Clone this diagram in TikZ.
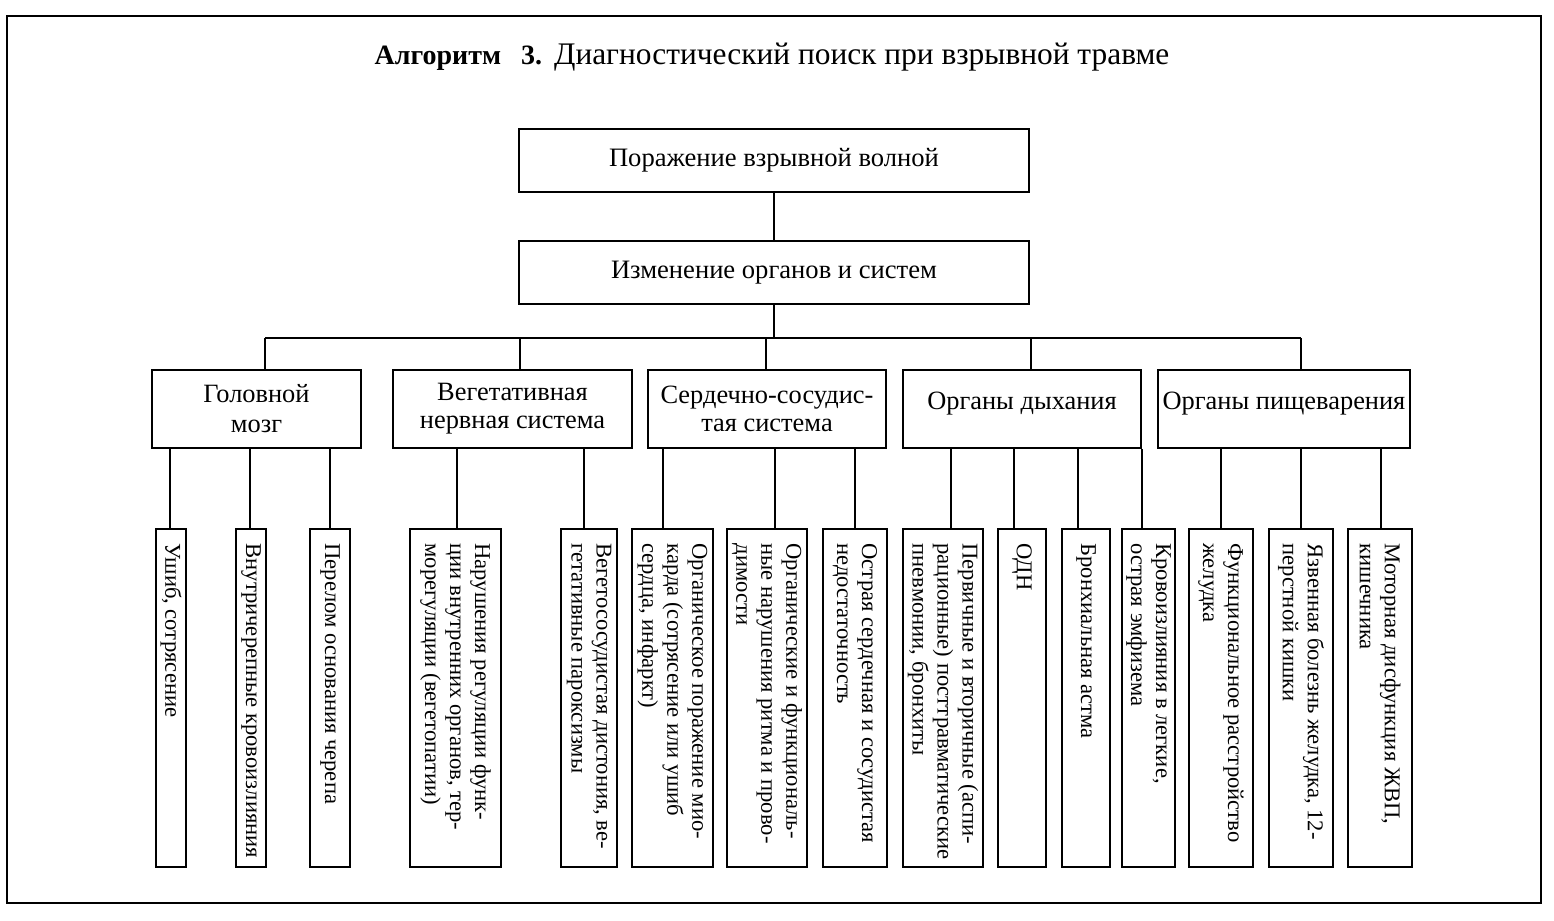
\documentclass[tikz,border=0pt]{standalone}
\usepackage{fontspec}
\setmainfont{Liberation Serif}
\begin{document}
\begin{tikzpicture}[x=0.5pt,y=-0.5pt,
  box/.style={draw, line width=0.8pt, align=center, inner sep=2pt},
  topbox/.style={box, minimum width=255pt, minimum height=31.5pt, font=\fontsize{13.3}{15}\selectfont},
  orgbox/.style={box, minimum height=39pt, font=\fontsize{13.2}{15}\selectfont},
  leaf/.style={draw, line width=0.8pt, rotate=-90, minimum width=169pt, inner sep=0pt},
  leaftext/.style={rotate=-90, anchor=west, inner sep=0pt, align=left, font=\fontsize{11.3}{12.5}\selectfont},
  conn/.style={line width=0.8pt}]
\useasboundingbox (0,0) rectangle (1554,921);
\draw[line width=1pt] (7,16) rectangle (1541,903);
\node[font=\fontsize{15.7}{18}\selectfont] (title) at (772,57) {{\fontsize{14}{18}\selectfont\bfseries Алгоритм\hspace{10pt}3.}\hspace{6pt}Диагностический поиск при взрывной травме};
\node[topbox] (L1) at (774,160.5) {Поражение взрывной волной};
\node[topbox] (L2) at (774,272.5) {Изменение органов и систем};
\draw[conn] (L1) -- (L2);
\node[orgbox, minimum width=104.5pt] (A) at (256.5,409) {Головной\\мозг};
\node[orgbox, minimum width=119.5pt] (B) at (512.5,409) {Вегетативная\\[-1pt]нервная система};
\node[orgbox, minimum width=119pt] (C) at (767,409) {Сердечно-сосудис-\\[-1pt]тая система};
\node[orgbox, minimum width=119pt] (D) at (1022,409) {Органы дыхания\\[-7pt]\mbox{}};
\node[orgbox, minimum width=126pt] (E) at (1284,409) {Органы пищеварения\\[-7pt]\mbox{}};
\coordinate (bus) at (774,338);
\coordinate (dA) at (265,338);
\coordinate (dB) at (520,338);
\coordinate (dC) at (766,338);
\coordinate (dD) at (1031,338);
\coordinate (dE) at (1301,338);
\draw[conn] (L2.south) -- (bus);
\draw[conn] (dA) -- (dE);
\foreach \d/\p in {dA/A,dB/B,dC/C,dD/D,dE/E}
  \draw[conn] (\d) -- (\d |- \p.north);
\foreach \n/\a/\b/\l/\p/\t in {
  lf1/156/186/170/A/{Ушиб, сотрясение},
  lf2/236/266/250/A/{Внутричерепные кровоизлияния},
  lf3/310/350/330/A/{Перелом основания черепа},
  lf4/410/501/457/B/{Нарушения регуляции функ-\\ции внутренних органов, тер-\\морегуляции (вегетопатии)},
  lf5/561/617/584/B/{Вегетососудистая дистония, ве-\\гетативные пароксизмы},
  lf6/632/713/663/C/{Органическое поражение мио-\\карда (сотрясение или ушиб\\сердца, инфаркт)},
  lf7/727/807/775/C/{Органические и функциональ-\\ные нарушения ритма и прово-\\димости},
  lf8/823/887/855/C/{Острая сердечная и сосудистая\\недостаточность},
  lf9/903/983/951/D/{Первичные и вторичные (аспи-\\рационные) посттравматические\\пневмонии, бронхиты},
  lf10/998/1046/1014/D/{ОДН},
  lf11/1062/1110/1078/D/{Бронхиальная астма},
  lf12/1122/1175/1142/D/{Кровоизлияния в легкие,\\острая эмфизема},
  lf13/1189/1253/1221/E/{Функциональное расстройство\\желудка},
  lf14/1269/1333/1301/E/{Язвенная болезнь желудка, 12-\\перстной кишки},
  lf15/1348/1412/1381/E/{Моторная дисфункция ЖВП,\\кишечника}}
{
  \node[leaf, minimum height=(\b-\a)*0.5pt] (\n) at ({(\a+\b)/2},698) {};
  \node[leaftext] (t\n) at ([yshift=-7.5pt]\n.west) {\t};
  \coordinate (x\n) at (\l,0);
  \draw[conn] (x\n |- \p.south) -- (x\n |- \n.west);
}
\end{tikzpicture}
\end{document}
